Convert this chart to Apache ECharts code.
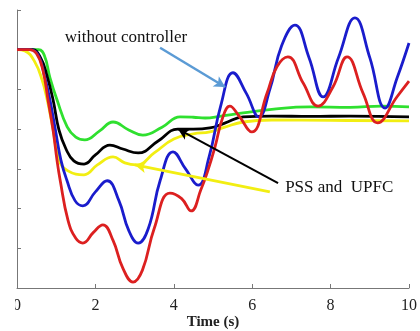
<!DOCTYPE html>
<html>
<head>
<meta charset="utf-8">
<script src="https://cdn.jsdelivr.net/npm/echarts@6/dist/echarts.min.js"></script>
<style>
  html, body { margin: 0; padding: 0; background: #fff; }
  #chart { width: 420px; height: 331px; }
</style>
</head>
<body>
<div id="chart"></div>
<script>
// Rotor response after the fault, [time (s), value] pairs
const withoutController = [
  [0, 6], [0.35, 6], [0.55, 5.85], [0.7, 5.35], [0.84, 4.74], [0.98, 3.98], [1.12, 3.22],
  [1.27, 2.72], [1.48, 2.2], [1.68, 2.07], [2.0, 2.42], [2.3, 2.7], [2.6, 2.2], [2.85, 1.45],
  [3.09, 1.13], [3.35, 1.5], [3.65, 2.7], [3.98, 3.43], [4.3, 3.0], [4.62, 2.59], [4.9, 3.3],
  [5.2, 4.6], [5.51, 5.42], [5.85, 4.9], [6.17, 4.31], [6.45, 5.0], [6.75, 6.1], [7.09, 6.62],
  [7.45, 5.8], [7.81, 4.81], [8.2, 5.8], [8.62, 6.8], [9.0, 5.8], [9.39, 4.53], [9.7, 5.3],
  [10, 6.17]
];
const redCase = [
  [0, 6], [0.3, 6], [0.5, 5.9], [0.66, 5.49], [0.79, 4.74], [0.92, 3.98], [1.02, 3.22],
  [1.1, 2.72], [1.3, 1.71], [1.5, 1.25], [1.68, 1.13], [1.95, 1.4], [2.19, 1.59], [2.45, 1.2],
  [2.7, 0.5], [2.96, 0.15], [3.2, 0.45], [3.5, 1.5], [3.9, 2.39], [4.2, 2.25], [4.44, 1.94],
  [4.7, 2.5], [4.85, 2.9], [5.05, 3.55], [5.25, 4.3], [5.43, 4.58], [5.65, 4.35], [5.99, 3.93],
  [6.38, 4.91], [6.63, 5.57], [6.91, 5.82], [7.3, 5.16], [7.68, 4.58], [8.06, 5.06], [8.42, 5.82],
  [8.83, 4.9], [9.2, 4.16], [9.69, 4.81], [10, 5.21]
];
const yellowCase = [
  [0, 6], [0.2, 5.97], [0.45, 5.7], [0.64, 5.24], [0.77, 4.74], [0.92, 4.0], [1.07, 3.22],
  [1.3, 2.95], [1.71, 2.85], [2.05, 3.1], [2.45, 3.3], [2.75, 3.15], [3.05, 3.1], [3.5, 3.4],
  [4.0, 3.75], [4.5, 3.88], [4.92, 3.93], [5.3, 4.05], [5.77, 4.18], [6.5, 4.23], [8, 4.22],
  [10, 4.21]
];
const greenCase = [
  [0, 6], [0.55, 6], [0.7, 5.85], [0.84, 5.3], [1.02, 4.74], [1.28, 4.06], [1.5, 3.8],
  [1.73, 3.73], [2.1, 3.95], [2.45, 4.18], [2.85, 3.98], [3.21, 3.85], [3.7, 4.05], [4.16, 4.31],
  [4.5, 4.3], [4.8, 4.28], [5.2, 4.33], [5.77, 4.41], [6.5, 4.5], [7.47, 4.56], [8.5, 4.55],
  [9.3, 4.58], [10, 4.56]
];
const pssUpfc = [
  [0, 6], [0.4, 6], [0.6, 5.8], [0.75, 5.4], [0.92, 4.74], [1.07, 3.98], [1.25, 3.5],
  [1.45, 3.2], [1.71, 3.12], [2.0, 3.35], [2.37, 3.6], [2.7, 3.5], [3.09, 3.4], [3.6, 3.7],
  [4.1, 4.0], [4.5, 4.0], [4.92, 4.03], [5.3, 4.15], [5.77, 4.31], [6.5, 4.33], [7.5, 4.32],
  [8.5, 4.33], [10, 4.31]
];

const xTicks = [0, 2, 4, 6, 8, 10];

// Callout arrows and captions, in data units
const blueArrow = [[3.65, 6.05], [5.31, 5.06]];
const blackArrow = [[6.66, 2.64], [4.11, 4.0]];
const yellowArrow = [[6.45, 2.42], [3.01, 3.1]];
const captionTop = { text: 'without controller', at: [1.22, 6.3] };
const captionPss = { text: 'PSS and  UPFC', at: [6.84, 2.54] };

const serif = '"Liberation Serif", "Times New Roman", serif';

function arrow(points, color, width) {
  return {
    silent: true,
    symbol: ['none', 'arrow'],
    symbolSize: [9, 11],
    label: { show: false },
    lineStyle: { color: color, width: width, type: 'solid' },
    data: [[{ coord: points[0] }, { coord: points[1] }]]
  };
}

function curve(name, data, color, extra) {
  return Object.assign({
    name: name,
    type: 'line',
    data: data,
    smooth: 0.45,
    showSymbol: false,
    lineStyle: { color: color, width: 2.8 },
    itemStyle: { color: color }
  }, extra || {});
}

const chart = echarts.init(document.getElementById('chart'), null, { renderer: 'canvas' });

chart.setOption({
  animation: false,
  backgroundColor: '#fff',
  grid: { left: 17, right: 11, top: 10, bottom: 43, outerBoundsMode: 'none', containLabel: false },
  xAxis: {
    type: 'value',
    min: xTicks[0],
    max: xTicks[xTicks.length - 1],
    interval: 2,
    name: 'Time (s)',
    nameLocation: 'middle',
    nameGap: 27,
    nameMoveOverlap: false,
    nameTextStyle: { fontFamily: serif, fontSize: 15, fontWeight: 'bold', color: '#222' },
    axisLine: { lineStyle: { color: '#777', width: 1 } },
    axisTick: { inside: true, length: 4, lineStyle: { color: '#777' } },
    axisLabel: { fontFamily: serif, fontSize: 16, color: '#222', margin: 10 },
    splitLine: { show: false }
  },
  yAxis: {
    type: 'value',
    min: 0,
    max: 7,
    interval: 1,
    axisLine: { show: true, lineStyle: { color: '#777', width: 1 } },
    axisTick: { show: true, inside: true, length: 4, lineStyle: { color: '#777' } },
    axisLabel: { show: false },
    splitLine: { show: false }
  },
  series: [
    curve('PSS', yellowCase, '#f2ee12', { markLine: arrow(yellowArrow, '#f2ee12', 3) }),
    curve('UPFC', greenCase, '#2fe02f'),
    curve('PSS and UPFC', pssUpfc, '#000000', { markLine: arrow(blackArrow, '#000000', 2) }),
    curve('without controller', withoutController, '#1a1ccc', { markLine: arrow(blueArrow, '#5b9bd5', 2.5) }),
    curve('case', redCase, '#dc2020')
  ]
});

// Captions placed from data coordinates
const p1 = chart.convertToPixel({ gridIndex: 0 }, captionTop.at);
const p2 = chart.convertToPixel({ gridIndex: 0 }, captionPss.at);
chart.setOption({
  graphic: [
    {
      type: 'text', x: p1[0], y: p1[1], z: 100,
      style: { text: captionTop.text, font: '17px ' + serif, fill: '#111', verticalAlign: 'middle' }
    },
    {
      type: 'text', x: p2[0], y: p2[1], z: 100,
      style: { text: captionPss.text, font: '17px ' + serif, fill: '#111', verticalAlign: 'middle' }
    },
    {
      // left margin strip
      type: 'rect', shape: { x: 0, y: 0, width: 15, height: 331 }, z: 100,
      style: { fill: '#fff' }
    }
  ]
});
</script>
</body>
</html>
